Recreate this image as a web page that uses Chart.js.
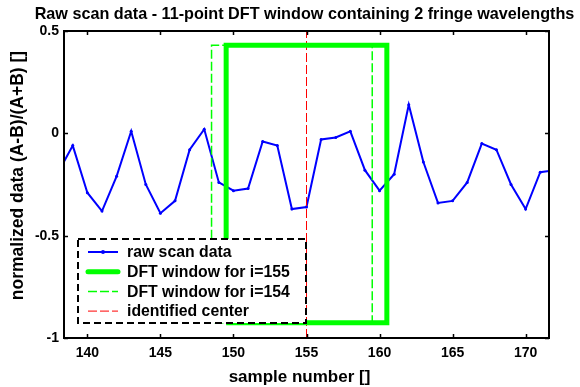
<!DOCTYPE html>
<html>
<head>
<meta charset="utf-8">
<script src="https://cdn.jsdelivr.net/npm/chart.js@4.4.0/dist/chart.umd.min.js"></script>
<style>
  html, body { margin: 0; padding: 0; background: #fff; }
</style>
</head>
<body>
<canvas id="scanChart" width="580" height="387"></canvas>
<script>
// Raw scan samples
const samples = [138, 139, 140, 141, 142, 143, 144, 145, 146, 147, 148, 149, 150, 151, 152, 153, 154,
                 155, 156, 157, 158, 159, 160, 161, 162, 163, 164, 165, 166, 167, 168, 169, 170, 171, 172];
const rawValues = [-0.19, -0.06, -0.29, -0.38, -0.21, 0.01, -0.25, -0.39, -0.33, -0.08, 0.02, -0.24, -0.28, -0.27, -0.04, -0.06, -0.37,
                   -0.36, -0.03, -0.02, 0.01, -0.18, -0.28, -0.20, 0.14, -0.14, -0.34, -0.33, -0.24, -0.05, -0.08, -0.25, -0.37, -0.19, -0.18];

// DFT windows (first / last edge) and their vertical extent
const window155 = [149.5, 160.5];
const window154 = [148.5, 159.5];
const windowLevels = [-0.925, 0.43];
const centerSample = 155;

// Axes
const xRange = [138.4, 171.6];
const yRange = [-1, 0.5];
const xTicks = [140, 145, 150, 155, 160, 165, 170];
const yTicks = [-1, -0.5, 0, 0.5];

const titleText = 'Raw scan data - 11-point DFT window containing 2 fringe wavelengths';
const xTitle = 'sample number []';
const yTitle = 'normalized data (A-B)/(A+B) []';
const legendLabels = ['raw scan data', 'DFT window for i=155', 'DFT window for i=154', 'identified center'];

const FONT = 'Arial, "Liberation Sans", Helvetica, sans-serif';

function rectPoints(edges, levels) {
    return [
        { x: edges[0], y: levels[0] },
        { x: edges[0], y: levels[1] },
        { x: edges[1], y: levels[1] },
        { x: edges[1], y: levels[0] },
        { x: edges[0], y: levels[0] },
    ];
}

const rawPoints = samples.map((s, i) => ({ x: s, y: rawValues[i] }));

// title and axis labels, placed like the matlab figure
const labelsPlugin = {
    id: 'plotLabels',
    afterDraw(chart) {
        const { ctx, chartArea: a } = chart;
        const midX = (a.left + a.right) / 2;
        ctx.save();
        ctx.fillStyle = '#000';
        ctx.textAlign = 'center';
        ctx.textBaseline = 'alphabetic';
        ctx.font = 'bold 16.2px ' + FONT;
        ctx.fillText(titleText, midX - 2, 19);

        ctx.font = 'bold 17px ' + FONT;
        ctx.textBaseline = 'middle';
        ctx.fillText(xTitle, midX - 7, 377);

        ctx.translate(18, (a.top + a.bottom) / 2 - 9);
        ctx.rotate(-Math.PI / 2);
        ctx.font = 'bold 17.5px ' + FONT;
        ctx.fillText(yTitle, 0, 0);
        ctx.restore();
    }
};

// black box with inward ticks, like the original figure
const framePlugin = {
    id: 'frame',
    afterDatasetsDraw(chart) {
        const { ctx, chartArea: a, scales } = chart;
        ctx.save();
        ctx.strokeStyle = '#000';
        ctx.lineWidth = 2;
        ctx.strokeRect(a.left, a.top, a.right - a.left, a.bottom - a.top);
        ctx.lineWidth = 1.5;
        ctx.beginPath();
        xTicks.forEach(v => {
            const px = Math.round(scales.x.getPixelForValue(v)) + 0.5;
            ctx.moveTo(px, a.bottom); ctx.lineTo(px, a.bottom - 4);
            ctx.moveTo(px, a.top); ctx.lineTo(px, a.top + 4);
        });
        yTicks.forEach(v => {
            const py = Math.round(scales.y.getPixelForValue(v)) + 0.5;
            ctx.moveTo(a.left, py); ctx.lineTo(a.left + 4, py);
            ctx.moveTo(a.right, py); ctx.lineTo(a.right - 4, py);
        });
        ctx.stroke();

        // legend box
        const box = { left: a.left + 14, top: a.bottom - 99, width: 228, height: 84 };
        ctx.fillStyle = '#fff';
        ctx.fillRect(box.left, box.top, box.width, box.height);
        ctx.setLineDash([7, 4]);
        ctx.lineWidth = 2;
        ctx.strokeRect(box.left, box.top, box.width, box.height);

        ctx.font = 'bold 15.8px ' + FONT;
        ctx.textBaseline = 'middle';
        ctx.textAlign = 'left';
        chart.data.datasets.forEach((ds, i) => {
            const y = box.top + 13 + i * 19.7;
            const x0 = box.left + 10, x1 = box.left + 40;
            ctx.strokeStyle = ds.borderColor;
            ctx.lineWidth = ds.borderWidth;
            ctx.lineCap = i === 1 ? 'round' : 'butt';
            ctx.setLineDash(ds.borderDash || []);
            ctx.beginPath();
            ctx.moveTo(x0, y); ctx.lineTo(x1, y);
            ctx.stroke();
            if (i === 0) {
                ctx.fillStyle = ds.borderColor;
                ctx.beginPath();
                ctx.arc((x0 + x1) / 2, y, 2, 0, Math.PI * 2);
                ctx.fill();
            }
            ctx.setLineDash([]);
            ctx.fillStyle = '#000';
            ctx.fillText(legendLabels[i], box.left + 49, y + 1);
        });
        ctx.restore();
    }
};

new Chart(document.getElementById('scanChart'), {
    type: 'line',
    data: {
        datasets: [
            {
                label: legendLabels[0],
                data: rawPoints,
                borderColor: '#0000ff',
                backgroundColor: '#0000ff',
                borderWidth: 2,
                pointRadius: 1.5,
                pointBorderWidth: 0,
                order: 3,
            },
            {
                label: legendLabels[1],
                data: rectPoints(window155, windowLevels),
                borderColor: '#00ff00',
                borderWidth: 5,
                pointRadius: 0,
                order: 0,
            },
            {
                label: legendLabels[2],
                data: rectPoints(window154, windowLevels),
                borderColor: '#00ff00',
                borderWidth: 1.5,
                borderDash: [9, 3],
                pointRadius: 0,
                order: 1,
            },
            {
                label: legendLabels[3],
                data: [{ x: centerSample, y: yRange[0] }, { x: centerSample, y: yRange[1] }],
                borderColor: '#ff0000',
                borderWidth: 1,
                borderDash: [9, 3],
                pointRadius: 0,
                order: 2,
            },
        ],
    },
    options: {
        responsive: false,
        animation: false,
        devicePixelRatio: 1,
        layout: { padding: { top: 31, right: 31, left: 0, bottom: 0 } },
        plugins: {
            legend: { display: false },
            tooltip: { enabled: false },
        },
        elements: { line: { tension: 0 } },
        scales: {
            x: {
                type: 'linear',
                min: xRange[0],
                max: xRange[1],
                afterBuildTicks: s => { s.ticks = xTicks.map(v => ({ value: v })); },
                afterFit: s => { s.height = 49; },
                grid: { display: false, drawTicks: false },
                border: { display: false },
                ticks: { color: '#000', font: { family: FONT, size: 14, weight: 'bold' }, padding: 7, maxRotation: 0 },
            },
            y: {
                min: yRange[0],
                max: yRange[1],
                afterBuildTicks: s => { s.ticks = yTicks.map(v => ({ value: v })); },
                afterFit: s => { s.width = 64; },
                grid: { display: false, drawTicks: false },
                border: { display: false },
                ticks: { color: '#000', font: { family: FONT, size: 14, weight: 'bold' }, padding: 5, callback: v => String(v) },
            },
        },
    },
    plugins: [labelsPlugin, framePlugin],
});
</script>
</body>
</html>
